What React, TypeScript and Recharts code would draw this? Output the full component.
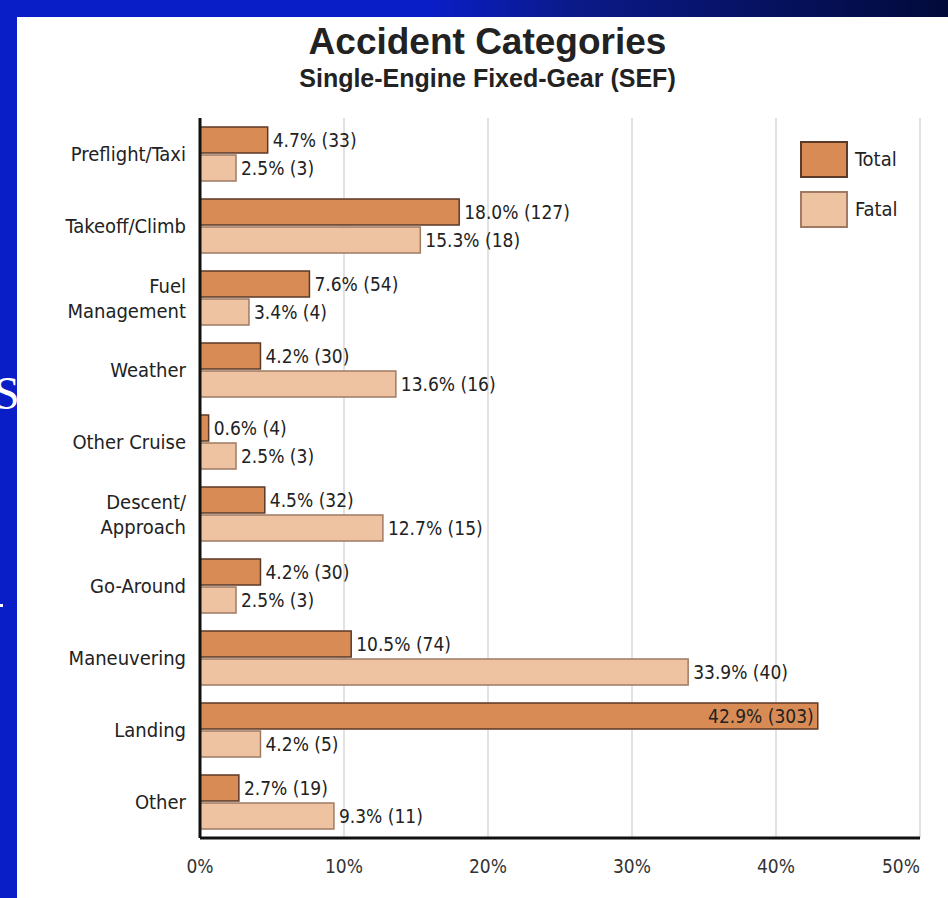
import {
  Bar,
  BarChart,
  CartesianGrid,
  LabelList,
  XAxis,
  YAxis,
} from "recharts";

const categories = [
  "Preflight/Taxi",
  "Takeoff/Climb",
  "Fuel\nManagement",
  "Weather",
  "Other Cruise",
  "Descent/\nApproach",
  "Go-Around",
  "Maneuvering",
  "Landing",
  "Other",
];
const totalPct = [4.7, 18.0, 7.6, 4.2, 0.6, 4.5, 4.2, 10.5, 42.9, 2.7];
const totalCount = [33, 127, 54, 30, 4, 32, 30, 74, 303, 19];
const fatalPct = [2.5, 15.3, 3.4, 13.6, 2.5, 12.7, 2.5, 33.9, 4.2, 9.3];
const fatalCount = [3, 18, 4, 16, 3, 15, 3, 40, 5, 11];
const xTicks = [0, 10, 20, 30, 40, 50];
const legendItems = ["Total", "Fatal"];

const chartData = categories.map((name, i) => ({
  name,
  total: totalPct[i],
  fatal: fatalPct[i],
  totalLabel: `${totalPct[i].toFixed(1)}% (${totalCount[i]})`,
  fatalLabel: `${fatalPct[i].toFixed(1)}% (${fatalCount[i]})`,
}));

const FONT = "'Liberation Sans Narrow', 'Arial Narrow', 'DejaVu Sans Condensed', sans-serif";
const TOTAL_FILL = "#d98b56";
const TOTAL_STROKE = "#5b3a28";
const FATAL_FILL = "#eec3a1";
const FATAL_STROKE = "#a07a62";

function CategoryTick({ x, y, payload }: any) {
  const lines = String(payload.value).split("\n");
  const start = -((lines.length - 1) * 25) / 2;
  return (
    <text x={x - 6} y={y} textAnchor="end" fontFamily={FONT} fontSize={20} fill="#222">
      {lines.map((l, i) => (
        <tspan key={i} x={x - 6} y={y + start + i * 25} dy="0.36em">
          {l}
        </tspan>
      ))}
    </text>
  );
}

// last tick sits flush with the right edge of the plot
function PercentTick({ x, y, payload }: any) {
  const last = payload.value === xTicks[xTicks.length - 1];
  return (
    <text
      x={x}
      y={y + 27}
      textAnchor={last ? "end" : "middle"}
      fontFamily={FONT}
      fontSize={19}
      fill="#333"
    >
      {`${payload.value}%`}
    </text>
  );
}

// labels go just past the bar end, unless the bar is too long
function ValueLabel({ x, y, width, height, value }: any) {
  const inside = x + width > 760;
  return (
    <text
      x={inside ? x + width - 4 : x + width + 5}
      y={y + height / 2}
      dy="0.36em"
      textAnchor={inside ? "end" : "start"}
      fontFamily={FONT}
      fontSize={19}
      fill="#222"
    >
      {value}
    </text>
  );
}

export default function App() {
  const fills = [TOTAL_FILL, FATAL_FILL];
  const strokes = [TOTAL_STROKE, FATAL_STROKE];
  return (
    <div
      style={{
        position: "relative",
        width: 948,
        height: 898,
        overflow: "hidden",
        background: "#0a1ec8",
      }}
    >
      <style>{"body{margin:0}"}</style>
      <div
        style={{
          position: "absolute",
          left: 0,
          top: 0,
          width: 948,
          height: 17,
          background: "linear-gradient(90deg, #0a1ec8 0%, #0a1ec8 45%, #0b1a8a 60%, #020a3a 100%)",
        }}
      />
      <div
        style={{
          position: "absolute",
          left: -6,
          top: 371,
          fontFamily: "'Liberation Serif', serif",
          fontSize: 46,
          color: "#fff",
          lineHeight: 1,
        }}
      >
        S
      </div>
      <div style={{ position: "absolute", left: 0, top: 604, width: 3, height: 3, background: "#fff" }} />
      <div
        style={{
          position: "absolute",
          left: 17,
          top: 17,
          width: 931,
          height: 881,
          background: "#fff",
        }}
      />
      <div
        style={{
          position: "absolute",
          left: 0,
          top: 20,
          width: 975,
          textAlign: "center",
          fontFamily: "'Liberation Sans', Arial, sans-serif",
          fontWeight: 700,
          color: "#222",
        }}
      >
        <div style={{ fontSize: 37, lineHeight: "44px" }}>Accident Categories</div>
        <div style={{ fontSize: 25, lineHeight: "28px" }}>Single-Engine Fixed-Gear (SEF)</div>
      </div>
      <div style={{ position: "absolute", left: 0, top: 0 }}>
        <BarChart
          width={948}
          height={898}
          data={chartData}
          layout="vertical"
          margin={{ top: 118, right: 28, bottom: 20, left: 0 }}
          barSize={26}
          barGap={2}
        >
          <CartesianGrid horizontal={false} stroke="#e2e2e2" strokeWidth={2} />
          <XAxis
            xAxisId="top"
            orientation="top"
            type="number"
            domain={[0, 50]}
            ticks={xTicks}
            tick={false}
            height={0}
            axisLine={{ stroke: "#e2e2e2", strokeWidth: 2 }}
            tickLine={false}
          />
          <XAxis
            type="number"
            domain={[0, 50]}
            ticks={xTicks}
            height={40}
            axisLine={{ stroke: "#111", strokeWidth: 3 }}
            tickLine={false}
            tick={<PercentTick />}
            interval={0}
          />
          <YAxis
            type="category"
            dataKey="name"
            width={200}
            axisLine={{ stroke: "#111", strokeWidth: 3 }}
            tickLine={false}
            tick={<CategoryTick />}
            interval={0}
          />
          <Bar dataKey="total" fill={TOTAL_FILL} stroke={TOTAL_STROKE} strokeWidth={1.5} isAnimationActive={false}>
            <LabelList dataKey="totalLabel" content={<ValueLabel />} />
          </Bar>
          <Bar dataKey="fatal" fill={FATAL_FILL} stroke={FATAL_STROKE} strokeWidth={1.5} isAnimationActive={false}>
            <LabelList dataKey="fatalLabel" content={<ValueLabel />} />
          </Bar>
        </BarChart>
      </div>
      <div style={{ position: "absolute", left: 800, top: 134 }}>
        {legendItems.map((label, i) => (
          <div key={label} style={{ display: "flex", alignItems: "center", height: 50 }}>
            <div
              style={{
                width: 44,
                height: 33,
                background: fills[i],
                border: `2px solid ${strokes[i]}`,
              }}
            />
            <span style={{ marginLeft: 7, fontFamily: FONT, fontSize: 20, color: "#222" }}>
              {label}
            </span>
          </div>
        ))}
      </div>
    </div>
  );
}
